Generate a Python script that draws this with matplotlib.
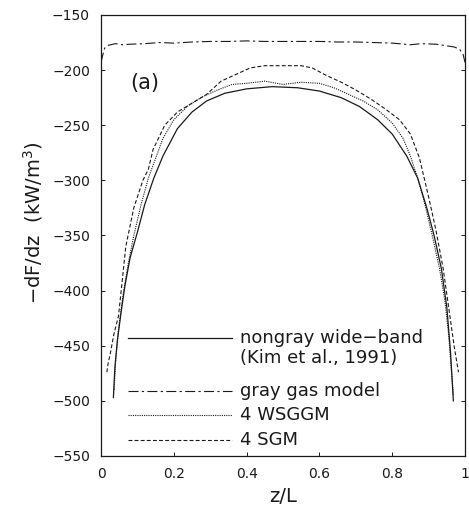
import numpy as np
import matplotlib
matplotlib.use("Agg")
import matplotlib.pyplot as plt

# nongray wide-band (Kim et al., 1991)
z_nongray = [0.034, 0.038, 0.045, 0.055, 0.066, 0.08, 0.10, 0.12, 0.145, 0.17, 0.21, 0.25,
             0.29, 0.34, 0.40, 0.47, 0.54, 0.60, 0.66, 0.71, 0.76, 0.80, 0.84, 0.87, 0.895,
             0.915, 0.935, 0.95, 0.96, 0.968]
v_nongray = [-497, -470, -445, -420, -395, -370, -347, -322, -298, -278, -253, -238,
             -228, -221, -217, -215, -216, -219, -225, -233, -245, -258, -278, -298, -325,
             -350, -380, -415, -455, -500]

# gray gas model
z_gray = [0, 0.005, 0.01, 0.02, 0.04, 0.06, 0.08, 0.12, 0.16, 0.2, 0.25, 0.3, 0.35, 0.4,
          0.45, 0.5, 0.55, 0.6, 0.65, 0.7, 0.75, 0.8, 0.85, 0.88, 0.92, 0.95, 0.97, 0.985,
          0.995, 1.0]
v_gray = [-193, -186, -180, -177.5, -176, -177, -176.5, -176, -175, -175.5, -174.5, -174,
          -174, -173.5, -174, -174, -174, -174, -174.5, -174.5, -175, -175.5, -177, -176,
          -176.5, -178, -179, -181, -186, -193]

# 4 WSGGM
z_wsggm = [0.036, 0.04, 0.048, 0.06, 0.075, 0.09, 0.11, 0.13, 0.15, 0.17, 0.20, 0.24, 0.28,
           0.32, 0.36, 0.40, 0.45, 0.50, 0.55, 0.60, 0.64, 0.68, 0.72, 0.76, 0.80, 0.83,
           0.85, 0.87, 0.89, 0.91, 0.93, 0.945, 0.955, 0.962, 0.968]
v_wsggm = [-490, -465, -435, -405, -375, -350, -322, -298, -280, -262, -245, -232, -224,
           -218, -213, -212, -210, -213, -211, -212, -216, -222, -228, -236, -248, -262,
           -278, -298, -322, -350, -380, -410, -440, -470, -495]

# 4 SGM
z_sgm = [0.016, 0.02, 0.025, 0.035, 0.048, 0.057, 0.068, 0.09, 0.115, 0.13, 0.143, 0.175,
         0.21, 0.25, 0.29, 0.33, 0.37, 0.41, 0.45, 0.50, 0.55, 0.58, 0.62, 0.66, 0.70,
         0.74, 0.78, 0.82, 0.85, 0.875, 0.90, 0.92, 0.94, 0.955, 0.97, 0.982]
v_sgm = [-474, -465, -458, -440, -423, -395, -360, -325, -300, -290, -272, -250,
         -238, -230, -222, -210, -204, -198, -196, -196, -196, -198, -205, -211, -218,
         -226, -235, -245, -258, -280, -315, -345, -380, -415, -450, -474]

x_ticks = [0, 0.2, 0.4, 0.6, 0.8, 1]
x_labels = ['0', '0.2', '0.4', '0.6', '0.8', '1']
y_ticks = [-550, -500, -450, -400, -350, -300, -250, -200, -150]

labels = ['nongray wide\u2212band', 'gray gas model', '4 WSGGM', '4 SGM']
label_extra = '(Kim et al., 1991)'

ink = '#1a1a1a'
fig = plt.figure(figsize=(4.69, 5.08), dpi=100)
ax = fig.add_axes([0.2154, 0.1024, 0.7761, 0.8681])

styles = [
    dict(linestyle='-', lw=0.9),
    dict(linestyle=(0, (9, 3, 2, 3)), lw=0.8),
    dict(linestyle=(0, (1, 1)), lw=0.8),
    dict(linestyle=(0, (3.5, 2)), lw=0.8),
]
series = [(z_nongray, v_nongray), (z_gray, v_gray), (z_wsggm, v_wsggm), (z_sgm, v_sgm)]
for (zz, vv), st in zip(series, styles):
    ax.plot(zz, vv, color=ink, **st)

ax.set_xlim(0, 1)
ax.set_ylim(-550, -150)
ax.set_xticks(x_ticks)
ax.set_xticklabels(x_labels)
ax.set_yticks(y_ticks)
ax.tick_params(direction='in', length=3, width=0.7, right=True, top=False,
               labelsize=10, pad=8, colors=ink)
for s in ax.spines.values():
    s.set_linewidth(0.9)
    s.set_color(ink)

ax.set_xlabel('z/L', fontsize=14, color=ink, labelpad=4)
ax.set_ylabel('\u2212dF/dz  (kW/m$^3$)', fontsize=14, color=ink)
ax.yaxis.set_label_coords(-0.155, 0.53)

ax.text(0.08, 0.846, '(a)', transform=ax.transAxes, fontsize=15, color=ink, va='center')

# hand-placed legend
leg_y = [0.268, 0.147, 0.093, 0.036]
for yy, st, lab in zip(leg_y, styles, labels):
    ax.plot([0.074, 0.36], [yy, yy], transform=ax.transAxes, color=ink, **st)
    ax.text(0.382, yy, lab, transform=ax.transAxes, fontsize=13, color=ink, va='center')
ax.text(0.382, 0.222, label_extra, transform=ax.transAxes, fontsize=13, color=ink,
        va='center')

fig.savefig('out.png', dpi=100)
